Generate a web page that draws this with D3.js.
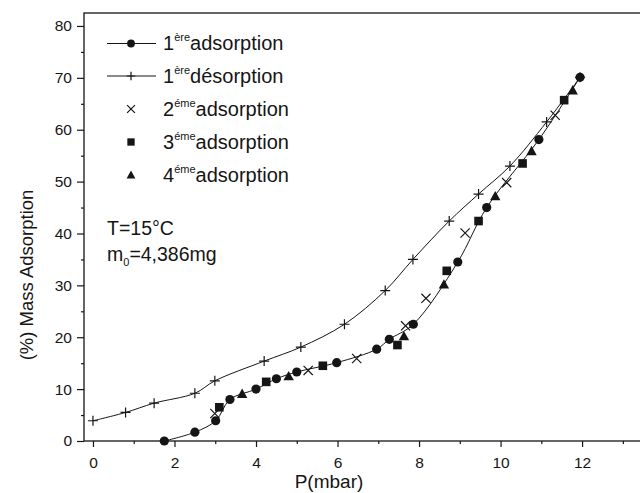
<!DOCTYPE html>
<html>
<head>
<meta charset="utf-8">
<script src="https://cdn.jsdelivr.net/npm/d3@7"></script>
<style>
  body { margin: 0; background: #fff; }
  svg { display: block; font-family: "Liberation Sans", Arial, sans-serif; }
</style>
</head>
<body>
<div id="chart"></div>
<script>
// 1ere adsorption (circles + line)
var ads1_p = [1.75, 2.5, 3.01, 3.36, 4.0, 4.5, 5.0, 5.98, 6.96, 7.27, 7.86, 8.95, 9.66, 10.94, 11.95];
var ads1_m = [0, 1.7, 3.9, 8.0, 10.0, 12.0, 13.3, 15.1, 17.7, 19.6, 22.5, 34.5, 45.0, 58.1, 70.1];

// 1ere desorption (plus + line)
var des1_p = [0, 0.8, 1.5, 2.5, 2.99, 4.2, 5.1, 6.17, 7.17, 7.85, 8.74, 9.46, 10.23, 11.13, 11.95];
var des1_m = [3.9, 5.5, 7.3, 9.2, 11.6, 15.4, 18.1, 22.5, 29.0, 35.0, 42.4, 47.6, 53.0, 61.5, 70.1];

// 2eme adsorption (x)
var ads2_p = [2.99, 5.28, 6.47, 7.67, 8.17, 9.13, 10.15, 11.34];
var ads2_m = [5.3, 13.6, 15.9, 22.2, 27.5, 40.1, 49.8, 62.8];

// 3eme adsorption (squares)
var ads3_p = [3.1, 4.25, 5.64, 7.47, 8.68, 9.46, 10.54, 11.56];
var ads3_m = [6.5, 11.4, 14.5, 18.5, 32.8, 42.4, 53.5, 65.7];

// 4eme adsorption (triangles)
var ads4_p = [3.66, 4.8, 7.63, 8.61, 9.87, 10.76, 11.77];
var ads4_m = [9.1, 12.5, 20.2, 30.2, 47.2, 55.9, 67.6];

var x_ticks = [0, 2, 4, 6, 8, 10, 12];
var x_minor = [1, 3, 5, 7, 9, 11, 13];
var y_ticks = [0, 10, 20, 30, 40, 50, 60, 70, 80];
var y_minor = [5, 15, 25, 35, 45, 55, 65, 75];

var legend_num  = ['1', '1', '2', '3', '4'];
var legend_sup  = ['ère', 'ère', 'éme', 'éme', 'éme'];
var legend_word = ['adsorption', 'désorption', 'adsorption', 'adsorption', 'adsorption'];
var legend_mark = ['circle', 'plus', 'cross', 'square', 'triangle'];

var chart_width  = 640;
var chart_height = 493;
var ink = '#151515';

function zip(ps, ms) {
  return ps.map(function(p, i) {
    return { p: p, m: ms[i] };
  });
}

var series = [
  { data: zip(ads1_p, ads1_m), mark: 'circle', line: true },
  { data: zip(des1_p, des1_m), mark: 'plus', line: true },
  { data: zip(ads2_p, ads2_m), mark: 'cross', line: false },
  { data: zip(ads3_p, ads3_m), mark: 'square', line: false },
  { data: zip(ads4_p, ads4_m), mark: 'triangle', line: false }
];

var svg = d3.select('#chart')
  .append('svg')
  .attr('width', chart_width)
  .attr('height', chart_height);

// Scales
var x_scale = d3.scaleLinear()
  .domain([-0.22, 13.47])
  .range([84, 642]);

var y_scale = d3.scaleLinear()
  .domain([0, 82.5])
  .range([441, 13]);

// Frame
svg.append('rect')
  .attr('x', 84)
  .attr('y', 13)
  .attr('width', 558)
  .attr('height', 428)
  .attr('fill', 'none')
  .attr('stroke', ink)
  .attr('stroke-width', 1.3);

// Axes
function style_axis(g) {
  g.select('.domain').remove();
  g.selectAll('line').attr('stroke', ink).attr('stroke-width', 1.2);
  g.selectAll('text')
    .attr('fill', ink)
    .style('font-size', '15.5px')
    .style('font-family', '"Liberation Sans", Arial, sans-serif');
}

svg.append('g')
  .attr('transform', 'translate(0,441)')
  .call(d3.axisBottom(x_scale).tickValues(x_ticks).tickSize(6).tickPadding(10).tickFormat(d3.format('d')))
  .call(style_axis);

svg.append('g')
  .attr('transform', 'translate(0,441)')
  .call(d3.axisBottom(x_scale).tickValues(x_minor).tickSize(3).tickFormat(''))
  .call(style_axis);

svg.append('g')
  .attr('transform', 'translate(84,0)')
  .call(d3.axisLeft(y_scale).tickValues(y_ticks).tickSize(7).tickPadding(5).tickFormat(d3.format('d')))
  .call(style_axis);

svg.append('g')
  .attr('transform', 'translate(84,0)')
  .call(d3.axisLeft(y_scale).tickValues(y_minor).tickSize(3).tickFormat(''))
  .call(style_axis);

// Axis titles
svg.append('text')
  .attr('x', 329)
  .attr('y', 488)
  .attr('text-anchor', 'middle')
  .attr('fill', ink)
  .style('font-size', '19px')
  .text('P(mbar)');

svg.append('text')
  .attr('transform', 'translate(33,275) rotate(-90)')
  .attr('text-anchor', 'middle')
  .attr('fill', ink)
  .style('font-size', '18.5px')
  .text('(%) Mass Adsorption');

// Markers
function draw_mark(g, type, cx, cy, s) {
  if (type === 'circle') {
    g.append('circle').attr('cx', cx).attr('cy', cy).attr('r', 4.6 * s).attr('fill', ink);
  } else if (type === 'square') {
    g.append('rect').attr('x', cx - 4.3 * s).attr('y', cy - 4.3 * s)
      .attr('width', 8.6 * s).attr('height', 8.6 * s).attr('fill', ink);
  } else if (type === 'triangle') {
    var h = 5.2 * s;
    g.append('path')
      .attr('d', 'M' + cx + ',' + (cy - h) + 'L' + (cx + h) + ',' + (cy + h * 0.8) + 'L' + (cx - h) + ',' + (cy + h * 0.8) + 'Z')
      .attr('fill', ink);
  } else if (type === 'plus') {
    var a = 5 * s;
    g.append('path')
      .attr('d', 'M' + (cx - a) + ',' + cy + 'H' + (cx + a) + 'M' + cx + ',' + (cy - a) + 'V' + (cy + a))
      .attr('stroke', ink).attr('stroke-width', 1.2);
  } else if (type === 'cross') {
    var c = 4.6 * s;
    g.append('path')
      .attr('d', 'M' + (cx - c) + ',' + (cy - c) + 'L' + (cx + c) + ',' + (cy + c) + 'M' + (cx - c) + ',' + (cy + c) + 'L' + (cx + c) + ',' + (cy - c))
      .attr('stroke', ink).attr('stroke-width', 1.2);
  }
}

// Lines
var line = d3.line()
  .x(function(d) { return x_scale(d.p); })
  .y(function(d) { return y_scale(d.m); })
  .curve(d3.curveCatmullRom.alpha(0.5));

series.forEach(function(s) {
  if (s.line) {
    svg.append('path')
      .datum(s.data)
      .attr('d', line)
      .attr('fill', 'none')
      .attr('stroke', ink)
      .attr('stroke-width', 1);
  }
});

series.forEach(function(s) {
  var g = svg.append('g');
  s.data.forEach(function(d) {
    draw_mark(g, s.mark, x_scale(d.p), y_scale(d.m), 1);
  });
});

// Legend
var legend_y = [50, 82.5, 115.5, 148.5, 181.5];

legend_mark.forEach(function(m, i) {
  var y = legend_y[i];
  var g = svg.append('g');
  if (i < 2) {
    g.append('line')
      .attr('x1', 107).attr('x2', 156)
      .attr('y1', y - 6.5).attr('y2', y - 6.5)
      .attr('stroke', ink).attr('stroke-width', 1);
  }
  draw_mark(g, m, 131, y - 6.5, 0.85);

  var t = g.append('text')
    .attr('x', 163)
    .attr('y', y)
    .attr('fill', ink)
    .style('font-size', '20px');
  t.append('tspan').text(legend_num[i]);
  t.append('tspan').attr('dy', -9).style('font-size', '11px').text(legend_sup[i]);
  t.append('tspan').attr('dy', 9).text(legend_word[i]);
});

// Annotations
svg.append('text')
  .attr('x', 107)
  .attr('y', 235)
  .attr('fill', ink)
  .style('font-size', '19.5px')
  .text('T=15°C');

var m0 = svg.append('text')
  .attr('x', 107)
  .attr('y', 261)
  .attr('fill', ink)
  .style('font-size', '19.5px');
m0.append('tspan').text('m');
m0.append('tspan').attr('dy', 5).style('font-size', '11px').text('0');
m0.append('tspan').attr('dy', -5).text('=4,386mg');
</script>
</body>
</html>
